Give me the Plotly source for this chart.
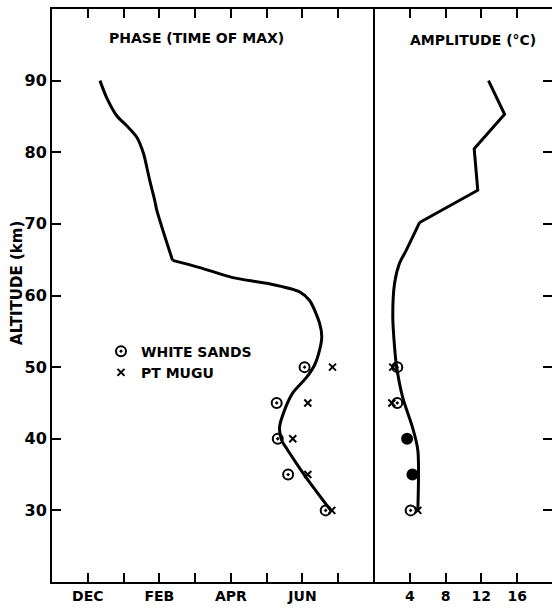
import plotly.graph_objects as go

# Altitude profiles of the annual temperature wave
# Phase is expressed in months counted from December (DEC = 0)
phase_alt_upper = [90, 87.6, 85.1, 83.7, 82.1, 79.8, 77.9, 76.1, 73.3, 71.9, 64.9]
phase_month_upper = [0.34, 0.53, 0.81, 1.09, 1.37, 1.56, 1.65, 1.73, 1.87, 1.93, 2.37]
phase_alt_lower = [64.9, 63.9, 62.5, 61.7, 60.5, 59.3, 56.1, 54.2, 52.4, 50.3, 48.6,
                   46.4, 44.0, 41.6, 39.8, 38.4, 34.9, 30.0]
phase_month_lower = [2.37, 3.13, 4.05, 5.0, 5.92, 6.2, 6.48, 6.54, 6.48, 6.34, 6.12,
                     5.73, 5.5, 5.36, 5.42, 5.59, 6.06, 6.79]

amp_alt_upper = [90, 85.3, 80.5, 74.7, 70.2]
amp_degc_upper = [12.8, 14.6, 11.2, 11.6, 5.1]
amp_alt_lower = [70.2, 66.3, 64.5, 61.7, 57.0, 52.8, 50.3, 45.8, 41.6, 38.4, 30]
amp_degc_lower = [5.1, 3.6, 2.85, 2.3, 2.1, 2.3, 2.5, 3.2, 4.3, 4.9, 4.9]

obs_alt = [50, 45, 40, 35, 30]
ws_phase = [6.06, 5.28, 5.31, 5.6, 6.65]
pm_phase = [6.84, 6.15, 5.73, 6.15, 6.82]
ws_amp = [2.6, 2.6, 3.7, 4.3, 4.1]
pm_amp = [2.1, 2.0, 3.7, 4.3, 4.9]

month_ticks = [0, 1, 2, 3, 4, 5, 6, 7]
month_labels = ["DEC", "", "FEB", "", "APR", "", "JUN", ""]
amp_ticks = [4, 8, 12, 16]
alt_ticks = [30, 40, 50, 60, 70, 80, 90]

FONT = "DejaVu Sans"
INK = "black"
split = 0.644


def curve(x, y, shape, xa, ya):
    return go.Scatter(x=x, y=y, mode="lines", showlegend=False,
                      line=dict(color=INK, width=3, shape=shape, smoothing=0.8),
                      xaxis=xa, yaxis=ya)


fig = go.Figure()

# phase panel
fig.add_trace(curve(phase_month_upper, phase_alt_upper, "spline", "x", "y"))
fig.add_trace(curve(phase_month_lower, phase_alt_lower, "spline", "x", "y"))
fig.add_trace(go.Scatter(x=ws_phase, y=obs_alt, mode="markers", name="WHITE SANDS",
                         marker=dict(symbol="circle-open-dot", size=10, color=INK,
                                     line=dict(width=2, color=INK)),
                         xaxis="x", yaxis="y"))
fig.add_trace(go.Scatter(x=pm_phase, y=obs_alt, mode="markers", name="PT MUGU",
                         marker=dict(symbol="x-thin", size=7, color=INK,
                                     line=dict(width=2, color=INK)),
                         xaxis="x", yaxis="y"))

# amplitude panel
fig.add_trace(curve(amp_degc_upper, amp_alt_upper, "linear", "x2", "y2"))
fig.add_trace(curve(amp_degc_lower, amp_alt_lower, "spline", "x2", "y2"))
fig.add_trace(go.Scatter(x=pm_amp, y=obs_alt, mode="markers", showlegend=False,
                         marker=dict(symbol="x-thin", size=7, color=INK,
                                     line=dict(width=2, color=INK)),
                         xaxis="x2", yaxis="y2"))
fig.add_trace(go.Scatter(x=ws_amp, y=obs_alt, mode="markers", showlegend=False,
                         marker=dict(symbol=["circle-open-dot", "circle-open-dot", "circle",
                                             "circle", "circle-open-dot"],
                                     size=10, color=INK, line=dict(width=2, color=INK)),
                         xaxis="x2", yaxis="y2"))

xfont = dict(family=FONT, size=14, color=INK, weight="bold")
yfont = dict(family=FONT, size=16, color=INK, weight="bold")
lbl = dict(family=FONT, size=14, color=INK, weight="bold")

fig.update_layout(
    width=552, height=608,
    margin=dict(l=52, r=0, t=9, b=26),
    paper_bgcolor="white", plot_bgcolor="white",
    showlegend=True,
    legend=dict(x=0.098, y=0.43, xanchor="left", yanchor="top",
                font=lbl, bgcolor="rgba(0,0,0,0)", itemwidth=30, tracegroupgap=0),
    xaxis=dict(domain=[0, split], range=[-1, 8], tickvals=month_ticks, ticktext=month_labels,
               ticks="inside", ticklen=9, tickwidth=2, tickcolor=INK,
               showline=True, linewidth=2, linecolor=INK, mirror="ticks",
               showgrid=False, zeroline=False, tickfont=xfont, anchor="y"),
    yaxis=dict(domain=[0, 1], range=[20, 100], tickvals=alt_ticks,
               ticks="inside", ticklen=9, tickwidth=2, tickcolor=INK,
               showline=True, linewidth=2, linecolor=INK, mirror=False,
               showgrid=False, zeroline=False, tickfont=yfont, anchor="x"),
    xaxis2=dict(domain=[split, 1], range=[0, 19.9], tickvals=amp_ticks,
                ticks="inside", ticklen=9, tickwidth=2, tickcolor=INK,
                showline=True, linewidth=2, linecolor=INK, mirror="ticks",
                showgrid=False, zeroline=False, tickfont=xfont, anchor="y2"),
    yaxis2=dict(domain=[0, 1], range=[20, 100], tickvals=alt_ticks, side="right",
                ticks="inside", ticklen=9, tickwidth=2, tickcolor=INK,
                showticklabels=False, showline=False,
                showgrid=False, zeroline=False, anchor="x2"),
    shapes=[dict(type="line", xref="paper", yref="paper", x0=split, x1=split, y0=0, y1=1,
                 line=dict(color=INK, width=2))],
    annotations=[
        dict(text="PHASE (TIME OF MAX)", xref="paper", yref="paper", x=0.288, y=0.949,
             xanchor="center", yanchor="middle", showarrow=False, font=lbl),
        dict(text="AMPLITUDE (°C)", xref="paper", yref="paper", x=0.842, y=0.946,
             xanchor="center", yanchor="middle", showarrow=False, font=lbl),
        dict(text="ALTITUDE (km)", xref="paper", yref="paper", x=-0.07, y=0.522,
             xanchor="center", yanchor="middle", textangle=-90, showarrow=False,
             font=dict(family=FONT, size=15, color=INK, weight="bold")),
    ],
)

fig.write_html("out.html")
